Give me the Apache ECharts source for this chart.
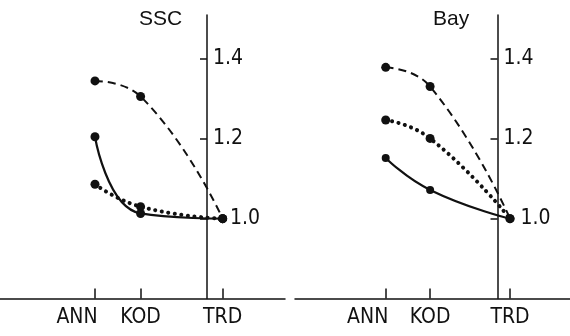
<!DOCTYPE html>
<html>
<head>
<meta charset="utf-8">
<script src="https://cdn.jsdelivr.net/npm/echarts@6/dist/echarts.min.js"></script>
<style>
  html, body { margin: 0; padding: 0; background: #fff; }
  #chart { width: 570px; height: 336px; }
</style>
</head>
<body>
<div id="chart"></div>
<script>
// sites along the coast, spaced like the original figure
const sites = ['ANN', 'KOD', 'TRD']
const sitePos = [0, 1, 2.8]
const yTicks = [1.0, 1.2, 1.4]
const panelNames = ['SSC', 'Bay']

// ratios (dashed, dotted, solid)
const sscDashed = [1.345, 1.306, 1.0]
const sscDotted = [1.086, 1.03, 1.0]
const sscSolid = [1.205, 1.013, 1.0]
const bayDashed = [1.379, 1.331, 1.0]
const bayDotted = [1.247, 1.201, 1.0]
const baySolid = [1.152, 1.072, 1.0]

const INK = '#111'
const FONT = '"Liberation Sans Narrow", "DejaVu Sans Condensed", "Liberation Sans", sans-serif'
const FS = 21

const toPoints = vals => vals.map((v, i) => [sitePos[i], v])

const siteLabel = v => {
  const i = sitePos.findIndex(p => Math.abs(p - v) < 1e-6)
  if (i < 0) return ''
  return i === 0 ? '{l|' + sites[i] + '}' : sites[i]
}

function makeX(idx, min, max) {
  return {
    type: 'value',
    gridIndex: idx,
    min: min,
    max: max,
    axisLine: { onZero: false, lineStyle: { color: INK, width: 1.5 } },
    splitLine: { show: false },
    axisTick: { customValues: sitePos, inside: true, length: 10, lineStyle: { color: INK, width: 1.5 } },
    axisLabel: {
      customValues: sitePos,
      formatter: siteLabel,
      margin: 9,
      color: INK,
      fontSize: FS,
      fontFamily: FONT,
      rich: { l: { padding: [0, 36, 0, 0], color: INK, fontSize: FS, fontFamily: FONT } }
    }
  }
}

function makeY(idx, offset) {
  return {
    type: 'value',
    gridIndex: idx,
    position: 'right',
    offset: offset,
    min: 0.8,
    max: 1.51,
    axisLine: { show: true, onZero: false, lineStyle: { color: INK, width: 1.5 } },
    splitLine: { show: false },
    axisTick: { show: true, customValues: yTicks, inside: true, length: 7, lineStyle: { color: INK, width: 1.5 } },
    axisLabel: {
      customValues: yTicks,
      formatter: v => Math.abs(v - 1) < 1e-6 ? '{p|1.0}' : v.toFixed(1),
      margin: 6,
      color: INK,
      fontSize: FS,
      fontFamily: FONT,
      rich: { p: { padding: [0, 0, 0, 17], color: INK, fontSize: FS, fontFamily: FONT } }
    }
  }
}

function makeSeries(idx, vals, lineStyle, size) {
  return {
    type: 'line',
    xAxisIndex: idx,
    yAxisIndex: idx,
    data: toPoints(vals),
    smooth: true,
    symbol: 'circle',
    symbolSize: size,
    itemStyle: { color: INK },
    lineStyle: Object.assign({ color: INK }, lineStyle),
    z: 3
  }
}

const dashed = { type: [8, 5], width: 2 }
const dotted = { type: [0.1, 6.5], width: 4, cap: 'round' }
const solid = { type: 'solid', width: 2.2 }

const titleStyle = { color: INK, fontSize: 21, fontWeight: 'normal', fontFamily: '"Liberation Sans", sans-serif' }

const chart = echarts.init(document.getElementById('chart'), null, { renderer: 'canvas' })
chart.setOption({
  backgroundColor: '#fff',
  animation: false,
  title: [
    { text: panelNames[0], left: 139, top: 9, padding: 0, textStyle: titleStyle },
    { text: panelNames[1], left: 433, top: 9, padding: 0, textStyle: titleStyle }
  ],
  grid: [
    { left: 0, top: 15, width: 285, bottom: 37.5 },
    { left: 295, top: 15, right: 0, bottom: 37.5 }
  ],
  xAxis: [makeX(0, -2.083, 4.167), makeX(1, -2.043, 4.151)],
  yAxis: [makeY(0, -78), makeY(1, -72.5)],
  series: [
    makeSeries(0, sscDashed, dashed, 9),
    makeSeries(0, sscDotted, dotted, 9),
    makeSeries(0, sscSolid, solid, 9),
    makeSeries(1, bayDashed, dashed, 9),
    makeSeries(1, bayDotted, dotted, 9),
    makeSeries(1, baySolid, solid, 8)
  ]
})
</script>
</body>
</html>
